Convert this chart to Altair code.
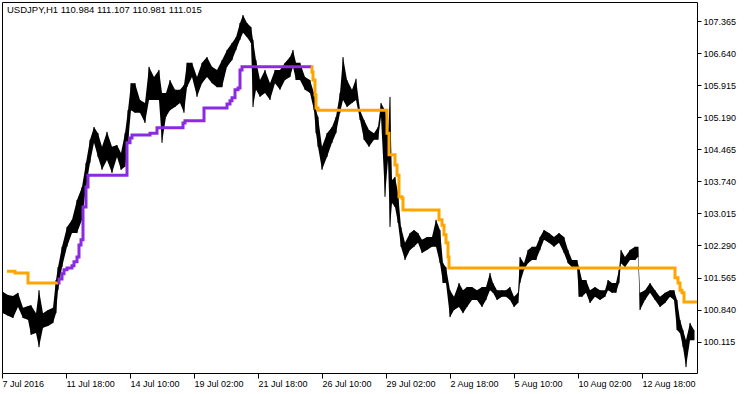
import altair as alt
import pandas as pd

# ---- price bars (H1), sampled: bar number, high, low ----
bar_idx = [1,6,11,16,21,26,29,34,37,41,46,51,54,56,60,65,70,75,80,84,88,92,96,100,105,110,115,
           119,123,126,129,133,138,143,147,152,157,160,164,168,173,178,182,185,190,195,200,205,210,215,220,225,230,
           234,238,241,245,249,251,254,258,263,268,273,278,283,288,291,294,298,303,308,312,314,316,320,325,330,334,338,341,345,
           350,354,358,362,367,372,376,379,383,386,388,390,393,396,399,403,408,412,416,420,425,430,434,438,441,444,448,452,457,461,
           465,470,475,480,484,488,491,495,500,504,508,512,516,518,522,526,530,534,538,542,547,552,557,562,566,570,575,
           577,580,584,588,593,598,603,606,610,614,617,619,623,628,633,636,638,643,648,653,658,663,668,672,675,678,681,684,688,692]
bar_high = [101.24,101.17,101.15,101.22,100.88,100.92,100.94,100.76,101.28,100.76,100.83,100.88,101.51,101.80,102.26,102.71,102.87,103.32,103.61,104.16,104.68,104.97,104.83,104.52,104.86,104.52,104.56,
            104.38,104.83,105.35,105.96,105.96,105.58,105.51,106.33,106.10,106.26,105.74,105.74,106.03,105.81,105.81,105.92,106.42,106.42,106.10,106.42,106.55,106.33,106.26,106.48,106.71,106.87,
            107.00,107.32,107.50,107.32,107.23,106.94,106.48,106.03,106.26,105.96,106.26,106.26,106.42,106.55,106.71,106.42,106.42,106.10,106.03,105.74,105.35,105.20,104.52,104.83,104.97,105.20,105.74,106.55,106.03,
            105.81,106.06,105.35,105.13,104.90,104.83,104.97,105.51,105.35,104.83,105.65,103.77,103.84,103.48,102.71,102.35,102.57,102.64,102.57,102.42,102.48,102.48,102.87,102.64,101.89,101.80,101.28,101.13,101.44,101.28,
            101.35,101.35,101.28,101.35,101.35,101.67,101.44,101.28,101.28,101.28,101.35,101.13,101.22,102.03,101.89,102.19,102.26,102.26,102.48,102.64,102.57,102.48,102.57,102.48,102.19,101.96,101.96,
            101.80,101.51,101.51,101.28,101.35,101.28,101.28,101.51,101.44,101.44,101.74,102.19,102.03,102.19,102.26,102.26,101.22,101.28,101.44,101.28,101.13,101.22,101.28,101.28,101.06,100.61,100.38,100.15,100.54,100.38]
bar_low = [100.76,100.70,100.65,100.90,100.65,100.61,100.27,100.31,99.99,100.43,100.47,100.54,100.76,101.28,101.80,102.26,102.57,102.57,102.87,103.61,104.16,104.61,104.29,104.00,104.22,103.93,104.29,
           104.00,104.07,104.61,105.35,105.29,105.29,105.06,105.58,105.58,105.58,104.61,105.20,105.35,105.42,105.51,105.29,105.87,106.10,105.65,105.96,106.10,105.96,105.87,105.87,106.33,106.48,
           106.71,106.94,107.10,107.00,106.87,105.42,105.81,105.65,105.74,105.58,105.96,105.81,106.03,106.10,106.33,106.03,106.03,105.81,105.74,105.35,104.83,104.52,104.00,104.29,104.61,104.83,105.29,105.58,105.42,
           105.51,105.58,105.13,104.68,104.52,104.68,104.68,105.20,103.39,104.22,102.71,103.25,103.16,102.80,102.26,101.96,102.19,102.26,102.35,102.12,102.19,102.26,102.26,101.89,101.44,101.44,100.67,100.83,100.90,100.76,
           100.90,101.06,101.06,100.90,101.06,101.28,101.22,101.06,101.13,101.13,101.06,100.90,100.99,101.44,101.74,101.89,101.96,101.96,102.19,102.42,102.35,102.26,102.35,102.12,101.89,101.80,101.80,
           101.13,101.13,101.22,100.99,101.13,101.06,101.13,101.28,101.22,101.22,101.44,101.89,101.80,101.96,101.96,102.03,100.83,101.06,101.22,101.06,100.90,100.99,101.13,101.06,100.38,100.31,99.99,99.54,100.15,100.15]

# ---- indicator (step line) breakpoints ----
down1_idx = [5, 13, 26, 56]
down1_val = [101.71, 101.67, 101.44, 101.44]
up_idx = [56,57,60,62,65,70,72,75,77,79,81,84,86,125,128,130,148,155,181,183,202,225,228,230,233,236,238,240,309]
up_val = [101.44,101.53,101.65,101.74,101.78,101.83,101.92,102.03,102.30,102.42,103.16,103.61,103.88,104.61,104.72,104.79,104.83,104.95,105.06,105.11,105.40,105.49,105.56,105.63,105.81,105.85,106.26,106.33,106.33]
down2_idx = [309,310,311,313,314,316,385,387,393,395,397,400,401,437,440,442,444,446,447,673,676,678,680,682,695]
down2_val = [106.33,106.21,106.03,105.69,105.40,105.35,104.83,104.34,104.11,103.88,103.39,103.36,103.09,102.87,102.75,102.53,102.35,102.03,101.78,101.56,101.44,101.28,101.22,101.01,101.01]

# ---- axes ----
price_ticks = [100.115, 100.840, 101.565, 102.290, 103.015, 103.740, 104.465, 105.190, 105.915, 106.640, 107.365]
time_tick_idx = [0, 64, 128, 192, 256, 320, 384, 448, 512, 576, 640]
time_labels = ["7 Jul 2016", "11 Jul 18:00", "14 Jul 10:00", "19 Jul 02:00", "21 Jul 18:00",
               "26 Jul 10:00", "29 Jul 02:00", "2 Aug 18:00", "5 Aug 10:00", "10 Aug 02:00", "12 Aug 18:00"]
header = "USDJPY,H1  110.984 111.107 110.981 111.015"

FONT = "Liberation Sans"
label_expr = "[" + ",".join("'" + t + "'" for t in time_labels) + "][round(datum.value / 64)]"

xs = alt.Scale(domain=[0, 695], nice=False, zero=False)
ys = alt.Scale(domain=[99.407, 107.795], nice=False, zero=False)

x_axis = alt.Axis(values=time_tick_idx, labelExpr=label_expr, labelAlign="left", tickSize=5,
                  tickColor="black", labelColor="black", labelFont=FONT, labelFontSize=9,
                  labelPadding=1, domain=False, grid=False, title=None, labelFlush=False,
                  labelOverlap=False)
y_axis = alt.Axis(orient="right", values=price_ticks, format=".3f", tickSize=4, tickColor="black",
                  labelColor="black", labelFont=FONT, labelFontSize=9, labelPadding=2,
                  domain=False, grid=False, title=None, labelOverlap=False, labelFlush=False)

price_df = pd.DataFrame({"bar": bar_idx, "high": bar_high, "low": bar_low})

area = alt.Chart(price_df).mark_area(color="black", interpolate="linear").encode(
    x=alt.X("bar:Q", scale=xs, axis=x_axis),
    y=alt.Y("high:Q", scale=ys, axis=y_axis),
    y2="low:Q",
)
rules = alt.Chart(price_df).mark_rule(color="black", strokeWidth=1).encode(
    x=alt.X("bar:Q", scale=xs, axis=x_axis),
    y=alt.Y("high:Q", scale=ys, axis=y_axis),
    y2="low:Q",
)

ind_df = pd.concat([
    pd.DataFrame({"bar": down1_idx, "val": down1_val, "seg": "d1"}),
    pd.DataFrame({"bar": up_idx, "val": up_val, "seg": "u"}),
    pd.DataFrame({"bar": down2_idx, "val": down2_val, "seg": "d2"}),
], ignore_index=True)

ind = alt.Chart(ind_df).mark_line(interpolate="step-after", strokeWidth=3, strokeCap="butt").encode(
    x=alt.X("bar:Q", scale=xs, axis=x_axis),
    y=alt.Y("val:Q", scale=ys, axis=y_axis),
    detail="seg:N",
    color=alt.Color("seg:N", scale=alt.Scale(domain=["d1", "u", "d2"],
                                             range=["#FFA500", "#8A2BE2", "#FFA500"]), legend=None),
)

head = alt.Chart(pd.DataFrame({"t": [header]})).mark_text(
    align="left", baseline="alphabetic", font=FONT, fontSize=9.5, color="black"
).encode(x=alt.value(5), y=alt.value(11), text="t:N")

chart = alt.layer(area, rules, ind, head).properties(
    width=695, height=371,
    autosize=alt.AutoSizeParams(type="none"),
    padding={"left": 2, "top": 2, "right": 53, "bottom": 21},
    background="white",
).configure_view(stroke="black", strokeWidth=1)

chart.save("out.html", embed_options={"renderer": "svg", "actions": False})
